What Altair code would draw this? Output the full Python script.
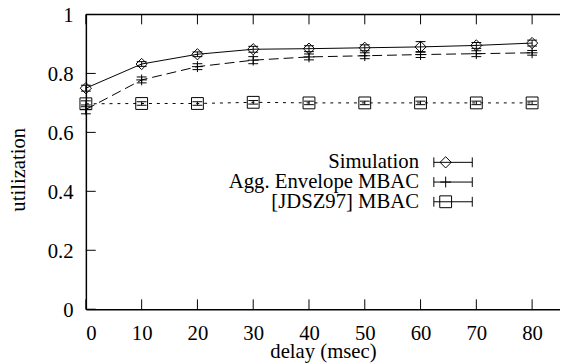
import altair as alt
import pandas as pd

# ---- data ----
delays = [0, 10, 20, 30, 40, 50, 60, 70, 80]
series_names = ["Simulation", "Agg. Envelope MBAC", "[JDSZ97] MBAC"]
sim_util = [0.750, 0.832, 0.865, 0.882, 0.884, 0.887, 0.890, 0.895, 0.903]
sim_err = [0.010, 0.008, 0.008, 0.010, 0.010, 0.010, 0.018, 0.010, 0.010]
agg_util = [0.678, 0.778, 0.823, 0.845, 0.856, 0.860, 0.864, 0.867, 0.870]
agg_err = [0.015, 0.010, 0.010, 0.012, 0.010, 0.010, 0.010, 0.010, 0.008]
jdsz_util = [0.697, 0.698, 0.698, 0.702, 0.700, 0.700, 0.700, 0.700, 0.700]
jdsz_err = [0.010, 0.006, 0.006, 0.006, 0.006, 0.006, 0.006, 0.006, 0.006]
x_ticks = [0, 10, 20, 30, 40, 50, 60, 70, 80]
y_ticks = [0, 0.2, 0.4, 0.6, 0.8, 1.0]

W, H = 481, 299
FONT = "Liberation Serif, Times New Roman, serif"
FS = 21
xs = alt.Scale(domain=[0, 85], nice=False, zero=False)
ys = alt.Scale(domain=[0, 1], nice=False, zero=False)
X_AXIS = alt.Axis(title="delay (msec)", values=x_ticks, ticks=False, tickSize=0,
                  labelPadding=31, labelBaseline="alphabetic",
                  titleBaseline="alphabetic", titleY=49, grid=False)
Y_AXIS = alt.Axis(title="utilization", values=y_ticks, ticks=False, tickSize=0,
                  labelPadding=13, labelExpr="format(datum.value, '~g')",
                  labelOffset=1, labelFlush=False,
                  titleX=-68, titleY=157, titleBaseline="middle", grid=False)

layers = []

# inward ticks (gnuplot style)
xt = alt.Chart(pd.DataFrame({"t": x_ticks}))
layers.append(
    xt.mark_rule(color="black", strokeWidth=1).encode(
        x=alt.X("t:Q", scale=xs, axis=X_AXIS),
        y=alt.value(H), y2=alt.value(H - 10))
)
layers.append(
    xt.mark_rule(color="black", strokeWidth=1).encode(
        x=alt.X("t:Q", scale=xs, axis=X_AXIS),
        y=alt.value(0), y2=alt.value(10))
)
yt = alt.Chart(pd.DataFrame({"v": y_ticks}))
layers.append(
    yt.mark_rule(color="black", strokeWidth=1).encode(
        y=alt.Y("v:Q", scale=ys, axis=Y_AXIS),
        x=alt.value(0), x2=alt.value(10))
)
# top border
layers.append(
    alt.Chart(pd.DataFrame({"b": [1]})).mark_rule(color="black", strokeWidth=1.5).encode(
        x=alt.value(0), x2=alt.value(W), y=alt.value(0))
)

styles = [
    (sim_util, sim_err, "diamond", 130, [1, 0]),
    (agg_util, agg_err, "M-1,0L1,0M0,-1L0,1", 121, [10, 5]),
    (jdsz_util, jdsz_err, "square", 144, [3, 5]),
]

for i, (name, (util, err, shape, size, dash)) in enumerate(zip(series_names, styles)):
    df = pd.DataFrame({
        "delay": delays,
        "util": util,
        "lo": [u - e for u, e in zip(util, err)],
        "hi": [u + e for u, e in zip(util, err)],
    })
    c = alt.Chart(df)
    X = alt.X("delay:Q", scale=xs, axis=X_AXIS)
    line_kw = dict(color="black", strokeWidth=1)
    if dash != [1, 0]:
        line_kw["strokeDash"] = dash
    layers.append(c.mark_line(**line_kw).encode(x=X, y=alt.Y("util:Q", scale=ys, axis=Y_AXIS)))
    layers.append(c.mark_rule(color="black", strokeWidth=1).encode(
        x=X, y=alt.Y("lo:Q", scale=ys, axis=Y_AXIS), y2="hi:Q"))
    for col in ["lo", "hi"]:
        layers.append(c.mark_tick(orient="horizontal", size=10, thickness=1, color="black",
                                  opacity=1).encode(
            x=X, y=alt.Y(f"{col}:Q", scale=ys, axis=Y_AXIS)))
    layers.append(c.mark_point(shape=shape, size=size, filled=False, color="black",
                               strokeWidth=1, opacity=1).encode(
        x=X, y=alt.Y("util:Q", scale=ys, axis=Y_AXIS)))

    # legend entry (gnuplot-style key)
    ly = 150 + 20 * i
    ldf = alt.Chart(pd.DataFrame({"label": [name]}))
    layers.append(ldf.mark_text(align="right", baseline="middle", font=FONT, fontSize=FS,
                                color="black").encode(
        text="label:N", x=alt.value(338), y=alt.value(ly)))
    layers.append(ldf.mark_rule(color="black", strokeWidth=1).encode(
        x=alt.value(353), x2=alt.value(392), y=alt.value(ly)))
    for xx in (353, 392):
        layers.append(ldf.mark_rule(color="black", strokeWidth=1).encode(
            x=alt.value(xx), y=alt.value(ly - 5), y2=alt.value(ly + 5)))
    layers.append(ldf.mark_point(shape=shape, size=size, filled=False, color="black",
                                 strokeWidth=1, opacity=1).encode(
        x=alt.value(365), y=alt.value(ly)))

chart = alt.layer(*layers).properties(
    width=W, height=H,
    autosize=alt.AutoSizeParams(type="none"),
    padding={"left": 79, "top": 4, "right": 0, "bottom": 53},
    background="white",
).configure_view(stroke=None).configure_axis(
    domainColor="black", domainWidth=1.5, labelFont=FONT, labelFontSize=FS,
    labelColor="black", titleFont=FONT, titleFontSize=FS, titleFontWeight="normal",
    titleColor="black",
)

chart.save("out.html", embed_options={"renderer": "svg", "actions": False})
